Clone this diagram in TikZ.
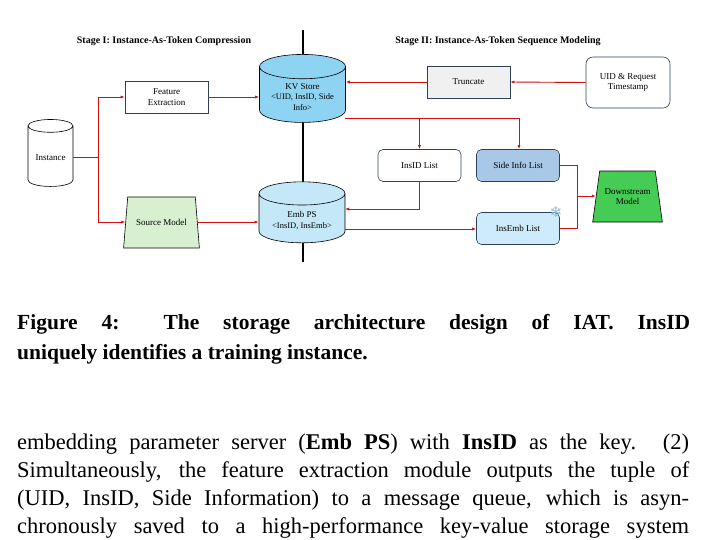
\documentclass[tikz,border=0pt]{standalone}
\usepackage{fontspec}
\setmainfont{Liberation Serif}
\newfontfamily\djv{DejaVu Sans}
\usetikzlibrary{shapes.geometric,arrows.meta}
\definecolor{kvb}{HTML}{8FD3F2}
\definecolor{embb}{HTML}{C4E8F8}
\definecolor{sideb}{HTML}{A9C8E8}
\definecolor{insb}{HTML}{CDEBFA}
\definecolor{srcg}{HTML}{D8F0D0}
\definecolor{dsg}{HTML}{44CC55}
\definecolor{edgec}{HTML}{2E4057}
\definecolor{arr}{HTML}{D01010}
\begin{document}
\begin{tikzpicture}[x=1pt,y=-1pt,
  box/.style={draw=edgec,line width=0.6pt,minimum width=83pt,minimum height=32pt,align=center,font=\fontsize{9}{10.5}\selectfont},
  rbox/.style={box,rounded corners=5pt},
  cyl/.style={cylinder,shape border rotate=90,draw=black,line width=0.6pt,aspect=0.35,align=center,font=\fontsize{9}{10.5}\selectfont},
  trap/.style={trapezium,trapezium stretches=true,draw=black,line width=0.6pt,align=center,font=\fontsize{9}{10.5}\selectfont},
  ar/.style={draw=arr,line width=0.9pt,-{Latex[length=4pt,width=3pt]}},
  ln/.style={draw=arr,line width=0.9pt},
  ttl/.style={font=\bfseries\fontsize{10}{12}\selectfont}]
\useasboundingbox (0,0) rectangle (706,539);
\begin{scope}
\clip (0,0) rectangle (706,539);
\draw[line width=1.6pt] (303,30) -- (303,262);
\node[ttl] (s1) at (164,41) {Stage I: Instance-As-Token Compression};
\node[ttl] (s2) at (498,41) {Stage II: Instance-As-Token Sequence Modeling};
\node[cyl,minimum width=45pt,minimum height=67pt] (inst) at (50.5,158) {Instance};
\node[box] (fe) at (166.5,97) {Feature\\Extraction};
\node[trap,fill=srcg,minimum width=76pt,minimum height=51pt,trapezium left angle=75,trapezium right angle=75] (src) at (161.5,222.5) {Source Model};
\node[cyl,fill=kvb,minimum width=86pt,minimum height=68pt] (kv) at (302.5,97) {KV Store\\\fontsize{8.5}{10}\selectfont<UID, InsID, Side\\\fontsize{8.5}{10}\selectfont Info>};
\node[cyl,fill=embb,minimum width=86pt,minimum height=61pt] (emb) at (302,220.5) {Emb PS\\\fontsize{8.5}{10}\selectfont<InsID, InsEmb>};
\node[box,fill=black!6] (tr) at (468.5,82) {Truncate};
\node[rbox,minimum width=84pt,minimum height=51pt,rounded corners=7pt] (uid) at (628,82.5) {UID \& Request\\Timestamp};
\node[rbox] (il) at (419.5,165.5) {InsID List};
\node[rbox,fill=sideb] (sl) at (518,165.5) {Side Info List};
\node[rbox,fill=insb] (el) at (518,228.5) {InsEmb List};
\node[trap,fill=dsg,minimum width=70pt,minimum height=51pt,trapezium left angle=74,trapezium right angle=74] (ds) at (627.5,196.5) {Downstream\\Model};
\node[text=cyan!50!gray!70,font=\djv\fontsize{15}{15}\selectfont] (snow) at (556,212) {❄};
\coordinate (sp) at (98,157);
\draw[ln] (inst.east |- sp) -- (sp);
\draw[ar] (sp) |- (fe.west);
\draw[ar] (sp) |- (src.west |- 0,222);
\draw[ar] (fe.east) -- (kv.west |- fe.east);
\draw[ar] (src.east |- 0,222) -- (emb.west |- 0,222);
\draw[ar] (uid.west) -- (tr.east);
\draw[ar] (tr.west) -- (kv.east |- tr.west);
\coordinate (k1) at (345,118);
\draw[ln] (k1) -- (519,118);
\draw[ar] (il.north |- k1) -- (il.north);
\draw[ar] (519,118) -- (sl.north -| 519,0);
\draw[ar] (il.south) |- (345,209);
\draw[ar] (345,229) -- (el.west |- 0,229);
\coordinate (j) at (577,196);
\draw[ln] (sl.east) -| (j);
\draw[ln] (el.east) -| (j);
\draw[ar] (j) -- (ds.west |- j);
\node[anchor=base west,inner sep=0,font=\bfseries\fontsize{21.5}{24}\selectfont] (c1) at (17,329) {\makebox[673pt][s]{Figure 4: The storage architecture design of IAT. InsID}};
\node[anchor=base west,inner sep=0,font=\bfseries\fontsize{21.5}{24}\selectfont] (c2) at (17,359) {uniquely identifies a training instance.};
\node[anchor=base west,inner sep=0,font=\fontsize{22.5}{24}\selectfont] (b1) at (17,449) {\makebox[672pt][s]{embedding parameter server (\textbf{Emb PS}) with \textbf{InsID} as the key. (2)}};
\node[anchor=base west,inner sep=0,font=\fontsize{22.5}{24}\selectfont] (b2) at (17,477) {\makebox[672pt][s]{Simultaneously, the feature extraction module outputs the tuple of}};
\node[anchor=base west,inner sep=0,font=\fontsize{22.5}{24}\selectfont] (b3) at (17,505) {\makebox[672pt][s]{(UID, InsID, Side Information) to a message queue, which is asyn-}};
\node[anchor=base west,inner sep=0,font=\fontsize{22.5}{24}\selectfont] (b4) at (17,533) {\makebox[672pt][s]{chronously saved to a high-performance key-value storage system}};
\end{scope}
\end{tikzpicture}
\end{document}
